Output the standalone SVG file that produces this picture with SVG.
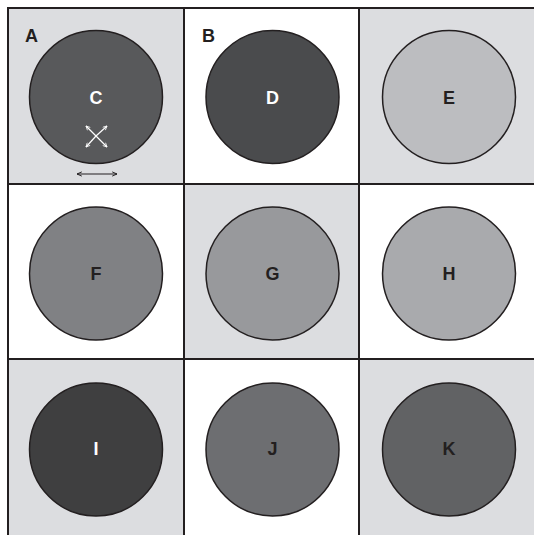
<svg xmlns="http://www.w3.org/2000/svg" width="534" height="535" viewBox="0 0 534 535">
<defs>
<style>
.shade{fill:#dcdde0}
.grid{stroke:#231f20;stroke-width:2;fill:none}
.node{stroke:#231f20;stroke-width:1.5}
.lbl{font-family:"Liberation Sans",Arial,sans-serif;font-weight:bold;font-size:18px;text-anchor:middle;dominant-baseline:central}
.dark{fill:#231f20}
.light{fill:#ffffff}
.panel{font-family:"Liberation Sans",Arial,sans-serif;font-weight:bold;font-size:18px;fill:#231f20}
</style>
<marker id="aw" viewBox="0 0 10 10" refX="9" refY="5" markerWidth="5" markerHeight="5" orient="auto-start-reverse" markerUnits="userSpaceOnUse">
<path d="M1,1 L9,5 L1,9" fill="none" stroke="#ffffff" stroke-width="1.6"/>
</marker>
<marker id="ak" viewBox="0 0 10 10" refX="9" refY="5" markerWidth="6" markerHeight="6" orient="auto-start-reverse" markerUnits="userSpaceOnUse">
<path d="M1,1.5 L9,5 L1,8.5" fill="none" stroke="#231f20" stroke-width="1.6"/>
</marker>
</defs>
<rect width="534" height="535" fill="#ffffff"/>
<g id="cells">
<rect class="shade" x="8" y="8" width="176" height="176"/>
<rect class="shade" x="359" y="8" width="175" height="176"/>
<rect class="shade" x="184" y="184" width="175" height="175"/>
<rect class="shade" x="8" y="359" width="176" height="176"/>
<rect class="shade" x="359" y="359" width="175" height="176"/>
</g>
<g id="grid" class="grid">
<line x1="8" y1="8" x2="534" y2="8"/>
<line x1="8" y1="184" x2="534" y2="184"/>
<line x1="8" y1="359" x2="534" y2="359"/>
<line x1="8" y1="7" x2="8" y2="535"/>
<line x1="184" y1="8" x2="184" y2="535"/>
<line x1="359" y1="8" x2="359" y2="535"/>
</g>
<text class="panel" x="25" y="42">A</text>
<text class="panel" x="202" y="42">B</text>
<g id="C"><circle class="node" cx="96" cy="97" r="66.5" fill="#58595b"/><text class="lbl light" x="96" y="98">C</text>
<line x1="96" y1="136" x2="86" y2="126" stroke="#fff" stroke-width="1.2" marker-end="url(#aw)"/>
<line x1="96" y1="136" x2="107" y2="126" stroke="#fff" stroke-width="1.2" marker-end="url(#aw)"/>
<line x1="96" y1="136" x2="86" y2="147" stroke="#fff" stroke-width="1.2" marker-end="url(#aw)"/>
<line x1="96" y1="136" x2="107" y2="147" stroke="#fff" stroke-width="1.2" marker-end="url(#aw)"/>
</g>
<g id="D"><circle class="node" cx="272.5" cy="97" r="66.5" fill="#4a4b4d"/><text class="lbl light" x="272.5" y="98">D</text></g>
<g id="E"><circle class="node" cx="449" cy="97" r="66.5" fill="#bcbdc0"/><text class="lbl dark" x="449" y="98">E</text></g>
<g id="F"><circle class="node" cx="96" cy="273.5" r="66.5" fill="#808184"/><text class="lbl dark" x="96" y="274">F</text></g>
<g id="G"><circle class="node" cx="272.5" cy="273.5" r="66.5" fill="#98999c"/><text class="lbl dark" x="272.5" y="274">G</text></g>
<g id="H"><circle class="node" cx="449" cy="273.5" r="66.5" fill="#a9aaad"/><text class="lbl dark" x="449" y="274">H</text></g>
<g id="I"><circle class="node" cx="96" cy="449.5" r="66.5" fill="#3f3f40"/><text class="lbl light" x="96" y="449">I</text></g>
<g id="J"><circle class="node" cx="272.5" cy="449.5" r="66.5" fill="#6d6e71"/><text class="lbl dark" x="272.5" y="449">J</text></g>
<g id="K"><circle class="node" cx="449" cy="449.5" r="66.5" fill="#616264"/><text class="lbl dark" x="449" y="449">K</text></g>
<g id="connectors">
<line x1="77" y1="174" x2="117" y2="174" stroke="#231f20" stroke-width="1.2" marker-start="url(#ak)" marker-end="url(#ak)"/>
</g>
</svg>
